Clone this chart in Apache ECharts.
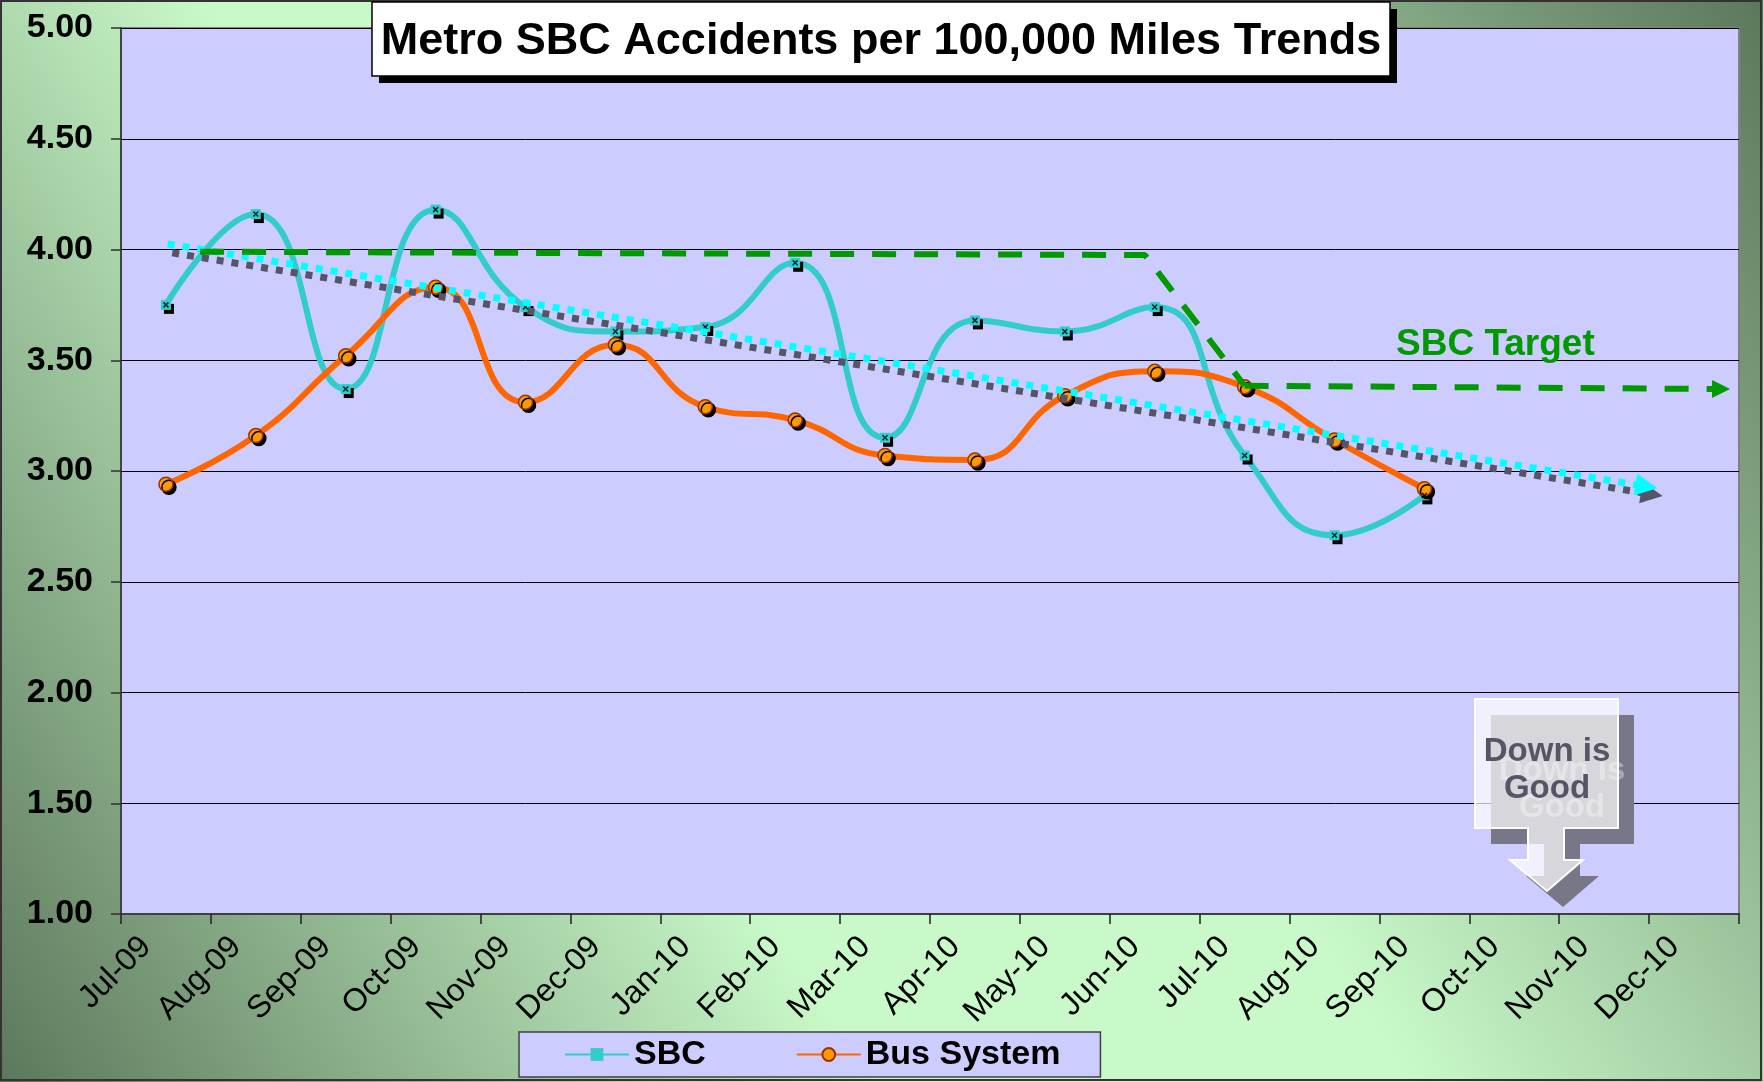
<!DOCTYPE html>
<html>
<head>
<meta charset="utf-8">
<script src="https://cdn.jsdelivr.net/npm/echarts@6/dist/echarts.min.js"></script>
<style>
html,body{margin:0;padding:0;background:#fff;}
#chart{width:1763px;height:1082px;}
</style>
</head>
<body>
<div id="chart"></div>
<script>
// ---- data ----
const categories = ['Jul-09','Aug-09','Sep-09','Oct-09','Nov-09','Dec-09','Jan-10','Feb-10','Mar-10','Apr-10','May-10','Jun-10','Jul-10','Aug-10','Sep-10','Oct-10','Nov-10','Dec-10'];
const sbcValues = [3.75, 4.16, 3.37, 4.18, 3.74, 3.63, 3.65, 3.94, 3.15, 3.68, 3.63, 3.74, 3.07, 2.71, 2.89, null, null, null];
const busValues = [2.94, 3.16, 3.52, 3.83, 3.31, 3.57, 3.29, 3.23, 3.07, 3.05, 3.34, 3.45, 3.38, 3.14, 2.92, null, null, null];
const yTicks = [1.0, 1.5, 2.0, 2.5, 3.0, 3.5, 4.0, 4.5, 5.0];
// annotation paths, in month units (band centre of month i = i + 0.5)
const targetPath = [[0.88, 3.99], [11.39, 3.975], [12.5, 3.385]];
const targetArrow = [[12.5, 3.385], [17.80, 3.37]];
const trendGray = [[0.57, 3.985], [17.03, 2.895]];
const trendCyan = [[0.52, 4.025], [16.97, 2.93]];

const FONT = '"Liberation Sans", Arial, Helvetica, sans-serif';
const chart = echarts.init(document.getElementById('chart'), null, {renderer: 'canvas'});

const downBox = [[1475,699],[1618,699],[1618,828],[1564,828],[1564,860],[1583,860],[1547,891],[1510,860],[1528,860],[1528,828],[1475,828]];
const shiftPts = (pts, d) => pts.map(p => [p[0] + d, p[1] + d]);

const option = {
  animation: false,
  backgroundColor: {
    type: 'linear', x: 0, y: 1, x2: 1, y2: 0,
    colorStops: [
      {offset: 0, color: '#5c785c'},
      {offset: 0.36, color: '#c9f9c9'},
      {offset: 0.58, color: '#c9f9c9'},
      {offset: 1, color: '#5c785c'}
    ]
  },
  grid: {left: 121, right: 24, top: 28, bottom: 168, show: true, backgroundColor: '#ccccff', borderColor: '#808080', borderWidth: 2},
  legend: {
    data: ['SBC', 'Bus System'],
    left: 519, top: 1032,
    padding: [4, 40, 4, 45],
    itemGap: 90, itemWidth: 64, itemHeight: 16,
    backgroundColor: '#ccccff', borderColor: '#404040', borderWidth: 1.5,
    textStyle: {fontFamily: FONT, fontSize: 34, fontWeight: 'bold', color: '#000', lineHeight: 37},
    selectedMode: false
  },
  xAxis: [
    {
      type: 'category', data: categories, boundaryGap: true,
      axisLine: {show: true, lineStyle: {color: '#404040', width: 2}},
      axisTick: {show: true, interval: 0, length: 10, lineStyle: {color: '#202020', width: 1.5}},
      axisLabel: {interval: 0, rotate: 45, fontFamily: FONT, fontSize: 32, color: '#000', margin: 8, padding: [0, 28, 0, 0]},
      splitLine: {show: false}
    },
    {type: 'value', min: 0, max: 18, show: false}
  ],
  yAxis: {
    type: 'value', min: 1, max: 5, interval: 0.5,
    axisLine: {show: true, lineStyle: {color: '#303030', width: 1.5}},
    axisTick: {show: true, length: 10, lineStyle: {color: '#303030', width: 1.5}},
    axisLabel: {fontFamily: FONT, fontSize: 34, fontWeight: 'bold', color: '#000', margin: 28,
      formatter: v => (yTicks.indexOf(v) >= 0 ? v.toFixed(2) : '')},
    splitLine: {show: true, lineStyle: {color: '#000', width: 1}}
  },
  series: [
    {
      name: 'SBC', type: 'line', data: sbcValues, smooth: 0.5, z: 3,
      lineStyle: {color: '#33cccc', width: 6},
      symbol: 'rect', symbolSize: 10, showAllSymbol: true,
      itemStyle: {color: '#33cccc', shadowColor: '#000', shadowOffsetX: 3, shadowOffsetY: 4, shadowBlur: 0}
    },
    {
      name: 'SBC marks', type: 'scatter', data: sbcValues, z: 4, silent: true,
      symbol: 'path://M0,0 L1,1 M1,0 L0,1', symbolSize: 5,
      itemStyle: {color: 'none', borderColor: '#000', borderWidth: 1.5}
    },
    {
      name: 'Bus System', type: 'line', data: busValues, smooth: 0.5, z: 3,
      lineStyle: {color: '#ff6600', width: 6},
      symbol: 'circle', symbolSize: 14, showAllSymbol: true,
      itemStyle: {color: '#ff9900', borderColor: '#993300', borderWidth: 1.5, shadowColor: '#000', shadowOffsetX: 3, shadowOffsetY: 3, shadowBlur: 0}
    },
    {
      name: 'target', type: 'line', xAxisIndex: 1, data: targetPath, z: 5, silent: true,
      showSymbol: false, symbol: 'none',
      lineStyle: {color: '#009900', width: 6, type: [24, 18], cap: 'butt'},
      markLine: {
        silent: true, symbol: ['none', 'triangle'], symbolSize: 18,
        label: {show: false},
        lineStyle: {color: '#009900', width: 6, type: [24, 18], cap: 'butt'},
        data: [[{coord: targetArrow[0]}, {coord: targetArrow[1]}]]
      }
    },
    {
      name: 'trendGray', type: 'line', xAxisIndex: 1, data: [], z: 6, silent: true,
      markLine: {
        silent: true, symbol: ['none', 'triangle'], symbolSize: 22,
        label: {show: false},
        lineStyle: {color: '#55556a', width: 7, type: [7, 8], cap: 'butt'},
        data: [[{coord: trendGray[0]}, {coord: trendGray[1]}]]
      }
    },
    {
      name: 'trendCyan', type: 'line', xAxisIndex: 1, data: [], z: 7, silent: true,
      markLine: {
        silent: true, symbol: ['none', 'triangle'], symbolSize: 22,
        label: {show: false},
        lineStyle: {color: '#00ffff', width: 7, type: [7, 8], cap: 'butt'},
        data: [[{coord: trendCyan[0]}, {coord: trendCyan[1]}]]
      }
    }
  ],
  graphic: [
    // outer border
    {type: 'rect', shape: {x: 1, y: 1, width: 1760, height: 1079}, style: {fill: 'none', stroke: '#333', lineWidth: 2}, z: 100},
    // title box
    {type: 'rect', shape: {x: 379, y: 9, width: 1018, height: 74}, style: {fill: '#000'}, z: 100},
    {type: 'rect', shape: {x: 372, y: 2, width: 1018, height: 74}, style: {fill: '#fff', stroke: '#000', lineWidth: 1.5}, z: 101},
    {type: 'text', x: 881, y: 42, style: {text: 'Metro SBC Accidents per 100,000 Miles Trends', fontFamily: FONT, fontSize: 45, fontWeight: 'bold', fill: '#000', align: 'center', verticalAlign: 'middle'}, z: 102},
    // SBC Target label
    {type: 'text', x: 1396, y: 345, style: {text: 'SBC Target', fontFamily: FONT, fontSize: 37, fontWeight: 'bold', fill: '#009900', align: 'left', verticalAlign: 'middle'}, z: 100},
    // Down is Good callout
    {type: 'polygon', shape: {points: shiftPts(downBox, 16)}, style: {fill: '#777788'}, z: 100},
    {type: 'text', x: 1562, y: 789, style: {text: 'Down is\nGood', fontFamily: FONT, fontSize: 33, fontWeight: 'bold', fill: '#a8a8b4', align: 'center', verticalAlign: 'middle', lineHeight: 37}, z: 101},
    {type: 'polygon', shape: {points: downBox}, style: {fill: 'rgba(255,255,255,0.7)', stroke: '#ffffff', lineWidth: 2}, z: 102},
    {type: 'text', x: 1547, y: 770, style: {text: 'Down is\nGood', fontFamily: FONT, fontSize: 33, fontWeight: 'bold', fill: '#555566', align: 'center', verticalAlign: 'middle', lineHeight: 37}, z: 103}
  ]
};
chart.setOption(option);
</script>
</body>
</html>
